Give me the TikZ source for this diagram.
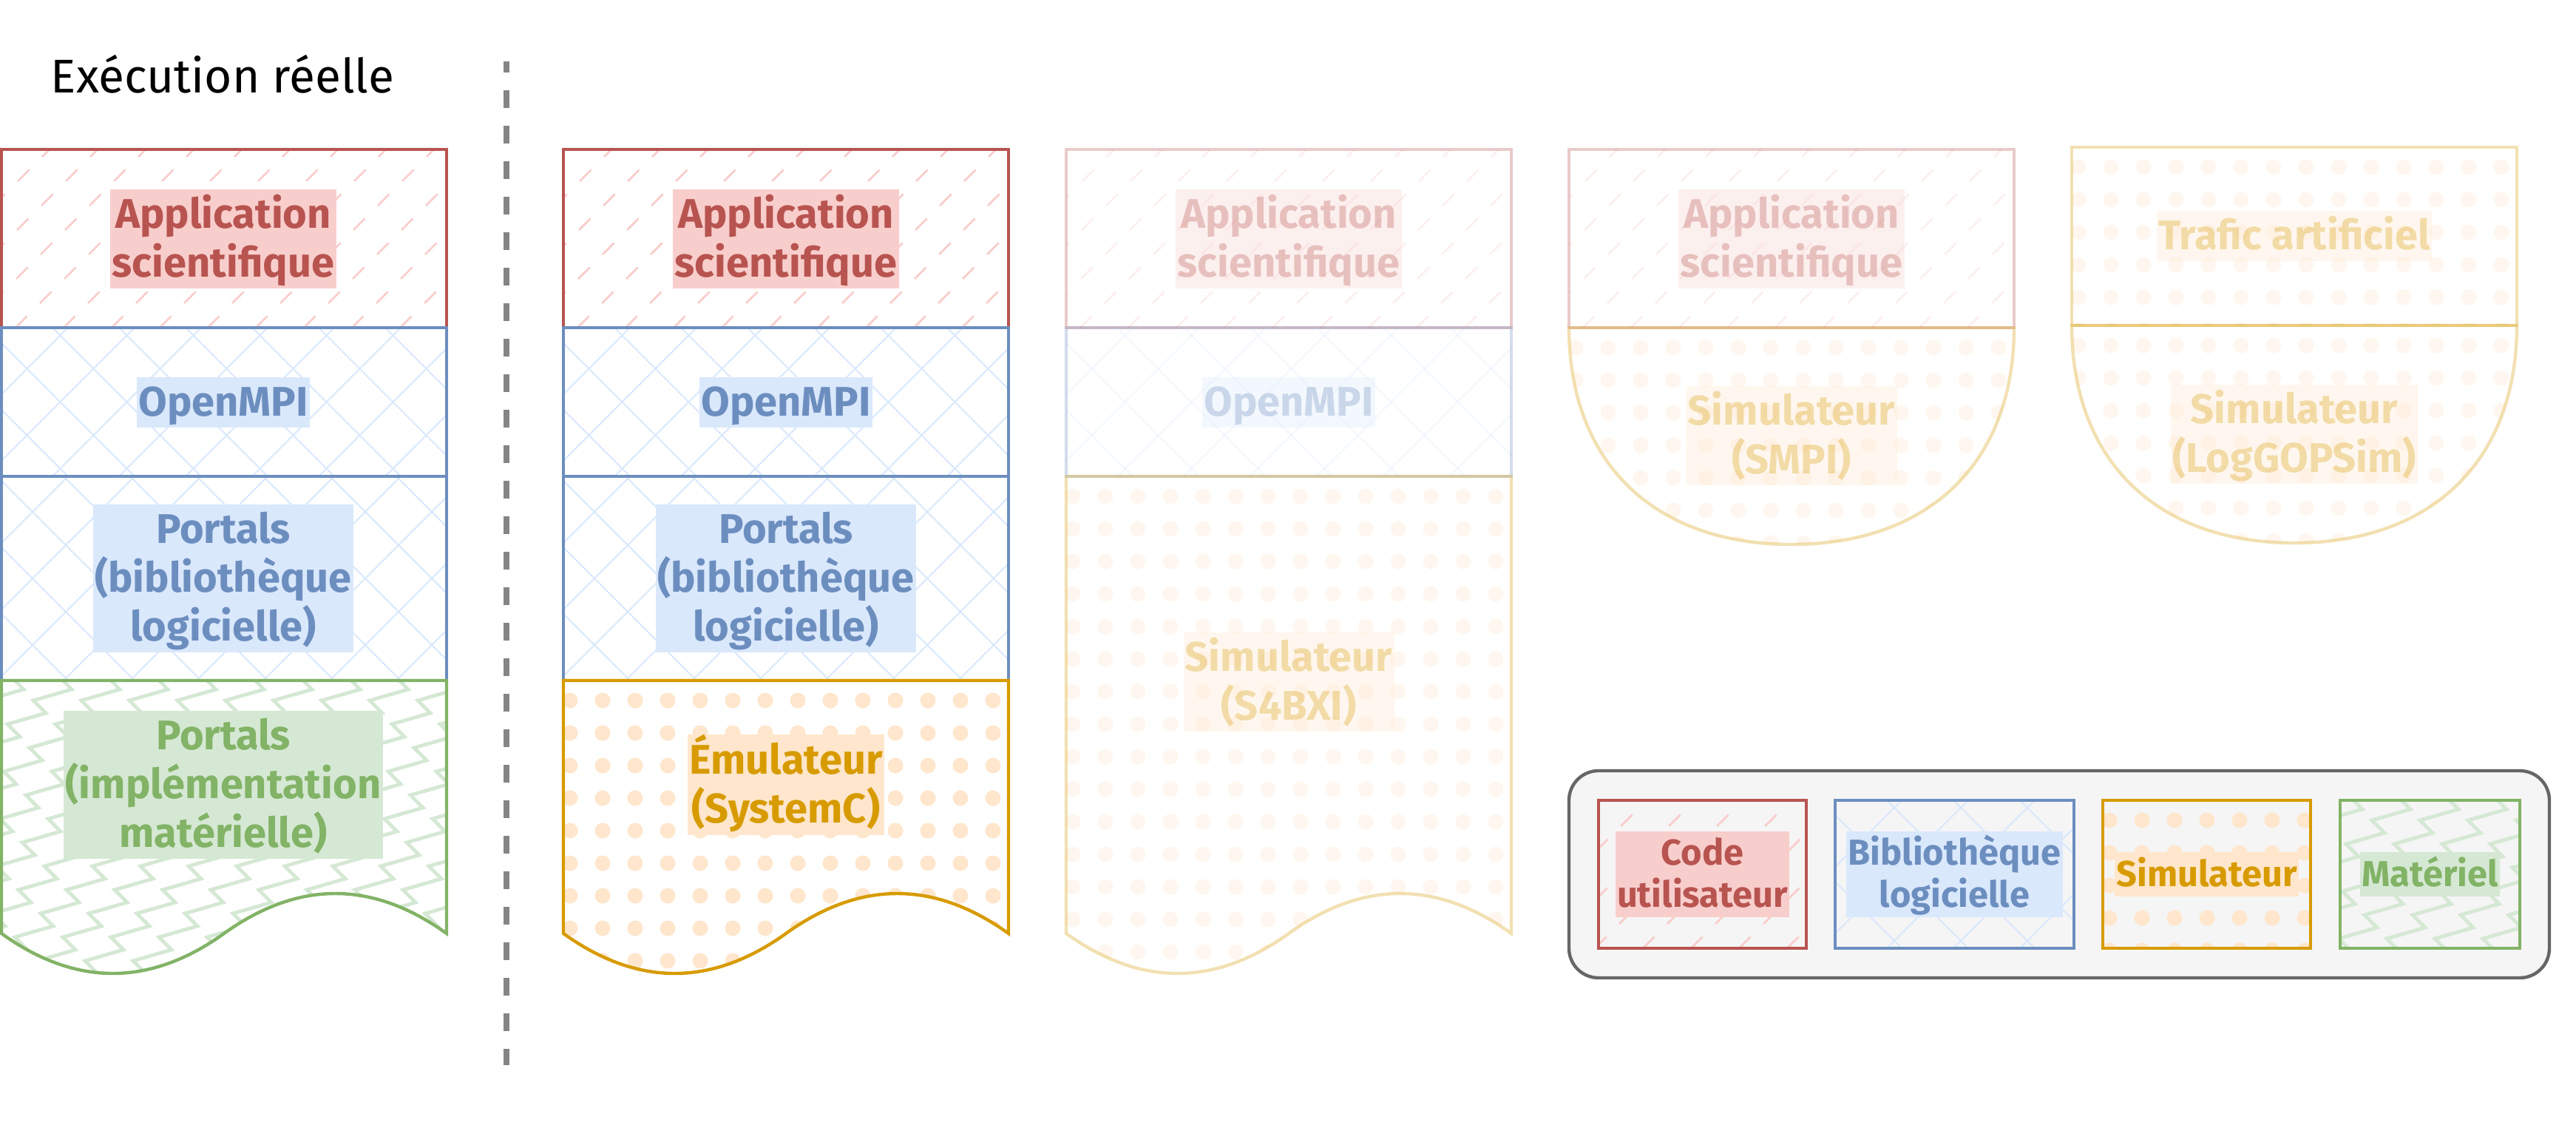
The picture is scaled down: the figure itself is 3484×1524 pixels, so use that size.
\documentclass[tikz,border=0pt]{standalone}
\usepackage{fontspec}
\setmainfont{Fira Sans}
\definecolor{redS}{HTML}{B85450}
\definecolor{redF}{HTML}{F8CECC}
\definecolor{blueS}{HTML}{6C8EBF}
\definecolor{blueF}{HTML}{DAE8FC}
\definecolor{orS}{HTML}{D79B00}
\definecolor{orF}{HTML}{FFE6CC}
\definecolor{grS}{HTML}{82B366}
\definecolor{grF}{HTML}{D5E8D4}
\definecolor{legF}{HTML}{F5F5F5}
\definecolor{legS}{HTML}{666666}
\definecolor{sepC}{HTML}{858585}
\newcommand\labfont{\fontsize{14pt}{16.5pt}\selectfont\bfseries}
\newcommand\legfont{\fontsize{12.2pt}{14.35pt}\selectfont\bfseries}
\newcommand\Ls{\rule{0pt}{13.1pt}}
\newcommand\Le{\rule[-3.9pt]{0pt}{3.9pt}}
\newcommand\Lls{\rule{0pt}{11.4pt}}
\newcommand\Lle{\rule[-3.4pt]{0pt}{3.4pt}}
\tikzset{
  redhatch/.style={draw=redF, line width=0.7pt, dash pattern=on 5.5pt off 6.17pt},
  bluehatch/.style={draw=blueF, line width=0.5pt},
  greenzig/.style={draw=grF, line width=1.2pt, line join=miter},
  boxline/.style={line width=1.1pt},
  lab/.style={inner xsep=0.6pt, inner ysep=0pt, outer sep=0pt, align=center, font=\labfont},
  legl/.style={inner xsep=0.6pt, inner ysep=0pt, outer sep=0pt, align=center, font=\legfont},
  labred/.style={fill=redF, text=redS},
  labblue/.style={fill=blueF, text=blueS},
  labor/.style={fill=orF, text=orS},
  labgr/.style={fill=grF, text=grS},
  faded/.style={opacity=0.3},
  sepline/.style={draw=sepC, line width=2.1pt, dash pattern=on 6pt off 6pt, dash phase=2.25pt},
  legbox/.style={draw=legS, fill=legF, line width=1.1pt, rounded corners=10pt}
}
% patterns: #1=x1 #2=y1 #3=x2 #4=y2 (pixel units, y downwards)
\newcommand\patRed[4]{%
  \pgfmathtruncatemacro\mypn{(((#3)-(#1))+((#4)-(#2)))/65+1}%
  \foreach \i in {0,...,\mypn}{%
    \draw[redhatch] ({(#1)-((#4)-(#2))+\i*65},{#4}) -- ++({(#4)-(#2)},{-((#4)-(#2))});
  }}
\newcommand\patBlue[4]{%
  \pgfmathtruncatemacro\mypn{(((#3)-(#1))+((#4)-(#2)))/90+1}%
  \foreach \i in {0,...,\mypn}{%
    \draw[bluehatch] ({(#1)-((#4)-(#2))+\i*90},{#4}) -- ++({(#4)-(#2)},{-((#4)-(#2))});
    \draw[bluehatch] ({(#1)-((#4)-(#2))+\i*90},{#2}) -- ++({(#4)-(#2)},{(#4)-(#2)});
  }}
\newcommand\patDots[4]{%
  \pgfmathtruncatemacro\mypnx{((#3)-(#1))/44+1}%
  \pgfmathtruncatemacro\mypny{((#4)-(#2))/44+1}%
  \foreach \i in {0,...,\mypnx}{\foreach \j in {0,...,\mypny}{%
    \fill[orF] ({(#1)+9+\i*44},{(#2)+27+\j*44}) circle[radius=10.5];}}}
\newcommand\patZig[4]{%
  \pgfmathtruncatemacro\mypn{(((#3)-(#1))+((#4)-(#2))*35/32)/65+2}%
  \pgfmathtruncatemacro\myzm{((#4)-(#2))/32+2}%
  \foreach \i in {0,...,\mypn}{%
    \draw[greenzig] ({(#1)+\i*65},{(#2)-20}) \foreach \m in {1,...,\myzm}{ -- ++(-52,15) -- ++(17,17)};
  }}
% shapes
\newcommand\rectbox[6]{%
  \begin{scope}
    \clip (#1,#2) rectangle (#3,#4);
    #5{#1}{#2}{#3}{#4}
  \end{scope}
  \draw[boxline, draw=#6] (#1,#2) rectangle (#3,#4);
}
\newcommand\docbox[4]{%
  \begin{scope}
    \clip (#1,#2) -- ({#1+602},#2) -- ({#1+602},1262) .. controls ({#1+501.7},1190) and ({#1+401.3},1190) .. ({#1+301},1262) .. controls ({#1+200.7},1334) and ({#1+100.3},1334) .. (#1,1262) -- cycle;
    #3{#1}{#2}{#1+602}{1340}
  \end{scope}
  \draw[boxline, draw=#4] (#1,#2) -- ({#1+602},#2) -- ({#1+602},1262) .. controls ({#1+501.7},1190) and ({#1+401.3},1190) .. ({#1+301},1262) .. controls ({#1+200.7},1334) and ({#1+100.3},1334) .. (#1,1262) -- cycle;
}
% U-shaped box: #1=left #2=top #3=bottom
\newcommand\ubox[5]{%
  \begin{scope}
    \clip ({#1+602},#2) .. controls ({#1+602},{(#2)+0.62*((#3)-(#2))}) and ({#1+487.6},#3) .. ({#1+301},#3) .. controls ({#1+114.4},#3) and (#1,{(#2)+0.62*((#3)-(#2))}) .. (#1,#2) -- cycle;
    #4{#1}{#2}{#1+602}{#3}
  \end{scope}
  \draw[boxline, draw=#5] ({#1+602},#2) .. controls ({#1+602},{(#2)+0.62*((#3)-(#2))}) and ({#1+487.6},#3) .. ({#1+301},#3) .. controls ({#1+114.4},#3) and (#1,{(#2)+0.62*((#3)-(#2))}) .. (#1,#2) -- cycle;
}
\begin{document}
\begin{tikzpicture}[x=0.25pt,y=-0.25pt]
\useasboundingbox[fill=white] (0,0) rectangle (3484,1524);

% title and separator
\node[font=\fontsize{16pt}{19pt}\selectfont, anchor=base, inner sep=0pt] (title) at (301,125) {Exécution réelle};
\coordinate (sepTop) at (685,83);
\coordinate (sepBot) at (685,1440);
\draw[sepline] (sepTop) -- (sepBot);

% column 1 : real execution
\rectbox{2}{202}{604}{443}{\patRed}{redS}
\rectbox{2}{443}{604}{644}{\patBlue}{blueS}
\rectbox{2}{644}{604}{920}{\patBlue}{blueS}
\docbox{2}{920}{\patZig}{grS}
\node[lab, labred] (c1app) at (302,323) {\Ls Application\\scientifique\Le};
\node[lab, labblue] (c1mpi) at (302,544) {\Ls OpenMPI\Le};
\node[lab, labblue] (c1por) at (302,782) {\Ls Portals\\(bibliothèque\\logicielle)\Le};
\node[lab, labgr] (c1hw) at (302,1061) {\Ls Portals\\(implémentation\\matérielle)\Le};

% column 2 : emulation
\rectbox{762}{202}{1364}{443}{\patRed}{redS}
\rectbox{762}{443}{1364}{644}{\patBlue}{blueS}
\rectbox{762}{644}{1364}{920}{\patBlue}{blueS}
\docbox{762}{920}{\patDots}{orS}
\node[lab, labred] (c2app) at (1063,323) {\Ls Application\\scientifique\Le};
\node[lab, labblue] (c2mpi) at (1063,544) {\Ls OpenMPI\Le};
\node[lab, labblue] (c2por) at (1063,782) {\Ls Portals\\(bibliothèque\\logicielle)\Le};
\node[lab, labor] (c2emu) at (1063,1061) {\Ls Émulateur\\(SystemC)\Le};

% faded columns
\begin{scope}[faded]
% column 3
\rectbox{1442}{202}{2044}{443}{\patRed}{redS}
\rectbox{1442}{443}{2044}{644}{\patBlue}{blueS}
\docbox{1442}{644}{\patDots}{orS}
\node[lab, labred] (c3app) at (1743,323) {\Ls Application\\scientifique\Le};
\node[lab, labblue] (c3mpi) at (1743,544) {\Ls OpenMPI\Le};
\node[lab, labor] (c3sim) at (1743,922) {\Ls Simulateur\\(S4BXI)\Le};
% column 4
\rectbox{2122}{202}{2724}{443}{\patRed}{redS}
\ubox{2122}{443}{736}{\patDots}{orS}
\node[lab, labred] (c4app) at (2423,323) {\Ls Application\\scientifique\Le};
\node[lab, labor] (c4sim) at (2423,589) {\Ls Simulateur\\(SMPI)\Le};
% column 5
\rectbox{2802}{199}{3404}{440}{\patDots}{orS}
\ubox{2802}{440}{734}{\patDots}{orS}
\node[lab, labor] (c5traf) at (3103,319) {\Ls Trafic artificiel\Le};
\node[lab, labor] (c5sim) at (3103,587) {\Ls Simulateur\\(LogGOPSim)\Le};
\end{scope}

% legend
\draw[legbox] (2122,1042) rectangle (3448,1322);
\rectbox{2162}{1082}{2443}{1282}{\patRed}{redS}
\rectbox{2482}{1082}{2805}{1282}{\patBlue}{blueS}
\rectbox{2844}{1082}{3125}{1282}{\patDots}{orS}
\rectbox{3165}{1082}{3408}{1282}{\patZig}{grS}
\node[legl, labred] (lcode) at (2302.5,1182) {\Lls Code\\utilisateur\Lle};
\node[legl, labblue] (llib) at (2643.5,1182) {\Lls Bibliothèque\\logicielle\Lle};
\node[legl, labor] (lsim) at (2984.5,1182) {\Lls Simulateur\Lle};
\node[legl, labgr] (lhw) at (3286.5,1182) {\Lls Matériel\Lle};
\end{tikzpicture}
\end{document}
